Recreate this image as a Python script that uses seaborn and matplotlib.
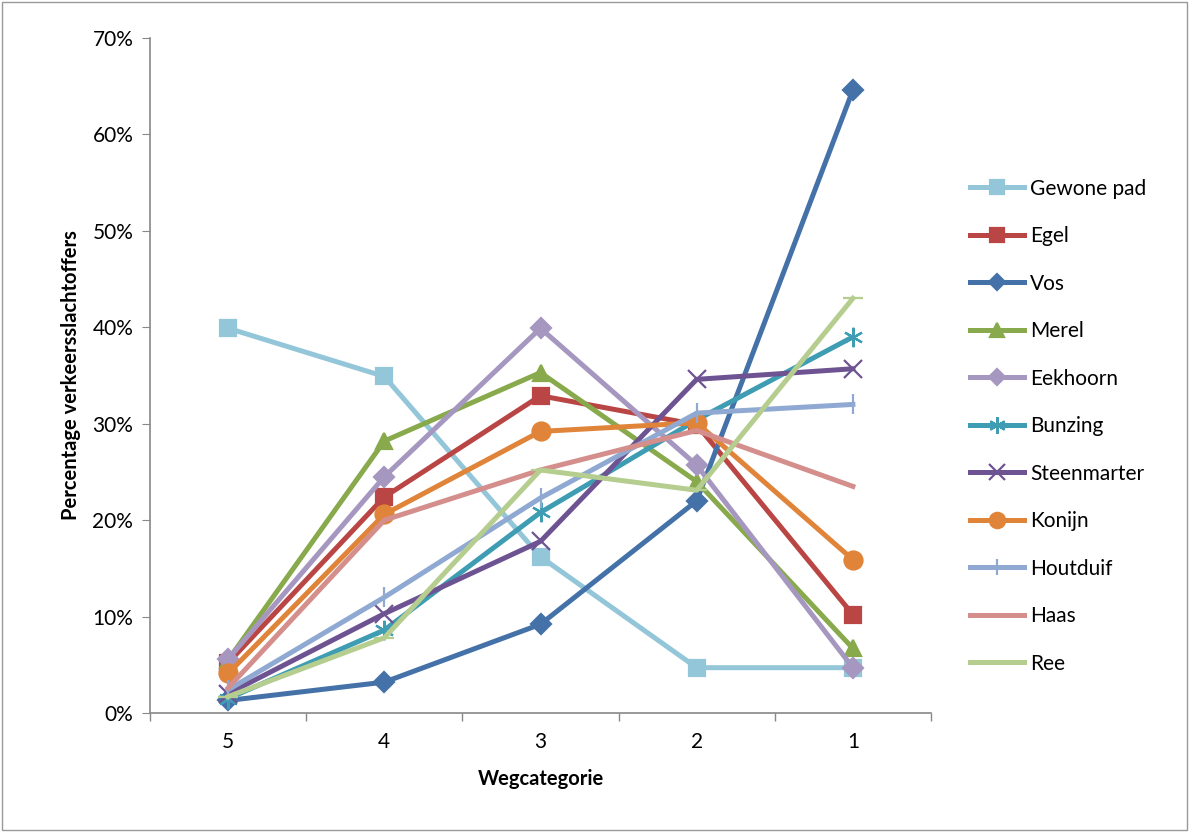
import matplotlib
matplotlib.use("Agg")
import matplotlib.pyplot as plt
from matplotlib.ticker import FixedLocator, PercentFormatter
import seaborn as sns
import pandas as pd

# Road categories (x axis) and casualty share per species (%)
categories = ["5", "4", "3", "2", "1"]
gewone_pad = [39.9, 34.9, 16.2, 4.7, 4.7]
egel = [5.2, 22.4, 32.9, 29.9, 10.2]
vos = [1.3, 3.2, 9.2, 22.0, 64.6]
merel = [5.5, 28.2, 35.3, 24.0, 6.7]
eekhoorn = [5.6, 24.5, 39.9, 25.7, 4.7]
bunzing = [1.5, 8.6, 20.8, 30.4, 39.0]
steenmarter = [2.0, 10.3, 17.8, 34.6, 35.7]
konijn = [4.1, 20.6, 29.2, 30.1, 15.9]
houtduif = [2.4, 12.0, 22.3, 31.1, 32.0]
haas = [2.6, 20.0, 25.2, 29.3, 23.5]
ree = [1.7, 7.8, 25.2, 23.1, 43.0]

series = [
    ("Gewone pad", gewone_pad, "#93C6D8", "s", 12),
    ("Egel", egel, "#B94644", "s", 12),
    ("Vos", vos, "#4472A8", "D", 10),
    ("Merel", merel, "#88AA4C", "^", 12),
    ("Eekhoorn", eekhoorn, "#A697C0", "D", 10),
    ("Bunzing", bunzing, "#3E9CB3", (6, 2, 0), 14),
    ("Steenmarter", steenmarter, "#6E5393", "x", 13),
    ("Konijn", konijn, "#E0843A", "o", 13),
    ("Houtduif", houtduif, "#8FA9D2", "|", 14),
    ("Haas", haas, "#D48F8D", "None", 0),
    ("Ree", ree, "#B5CE8F", "_", 14),
]

plt.rcParams["font.family"] = ["Lato", "DejaVu Sans"]
fig = plt.figure(figsize=(11.89, 8.32), dpi=100)
ax = fig.add_axes([150 / 1189, 1 - 713 / 832, (931 - 150) / 1189, (713 - 38) / 832])

x = list(range(len(categories)))
for name, vals, color, marker, ms in series:
    df = pd.DataFrame({"x": x, "y": vals})
    sns.lineplot(data=df, x="x", y="y", ax=ax, color=color, linewidth=3.6,
                 marker=marker, markersize=ms, markeredgecolor=color,
                 markeredgewidth=1.6, label=name, legend=False)

ax.set_xlim(-0.5, 4.5)
ax.set_ylim(0, 70)
ax.yaxis.set_major_locator(FixedLocator(range(0, 71, 10)))
ax.yaxis.set_major_formatter(PercentFormatter(decimals=0))
ax.set_xticks(x)
ax.set_xticklabels(categories)
ax.xaxis.set_minor_locator(FixedLocator([-0.5, 0.5, 1.5, 2.5, 3.5, 4.5]))
ax.tick_params(axis="x", which="major", length=0, pad=14, labelsize=15)
ax.tick_params(axis="x", which="minor", length=6, color="#888888", width=1)
ax.tick_params(axis="y", length=6, color="#888888", labelsize=15, pad=6)
for s in ["top", "right"]:
    ax.spines[s].set_visible(False)
for s in ["left", "bottom"]:
    ax.spines[s].set_color("#888888")
    ax.spines[s].set_linewidth(1.2)

ax.set_xlabel("Wegcategorie", fontsize=14.5, fontweight="bold", labelpad=12)
ax.set_ylabel("Percentage verkeersslachtoffers", fontsize=14.5, fontweight="bold", labelpad=8)

handles, labels = ax.get_legend_handles_labels()
fig.legend(handles, labels, loc="upper left", bbox_to_anchor=(951 / 1189, 1 - 160 / 832),
           frameon=False, fontsize=15, labelspacing=1.32, handlelength=2.6,
           handletextpad=0.3, markerscale=0.85)

# light outer frame around the figure
fig.patches.append(plt.Rectangle((0.002, 0.002), 0.996, 0.996, transform=fig.transFigure,
                                 fill=False, edgecolor="#999999", linewidth=1))

fig.savefig("out.png", dpi=100)
